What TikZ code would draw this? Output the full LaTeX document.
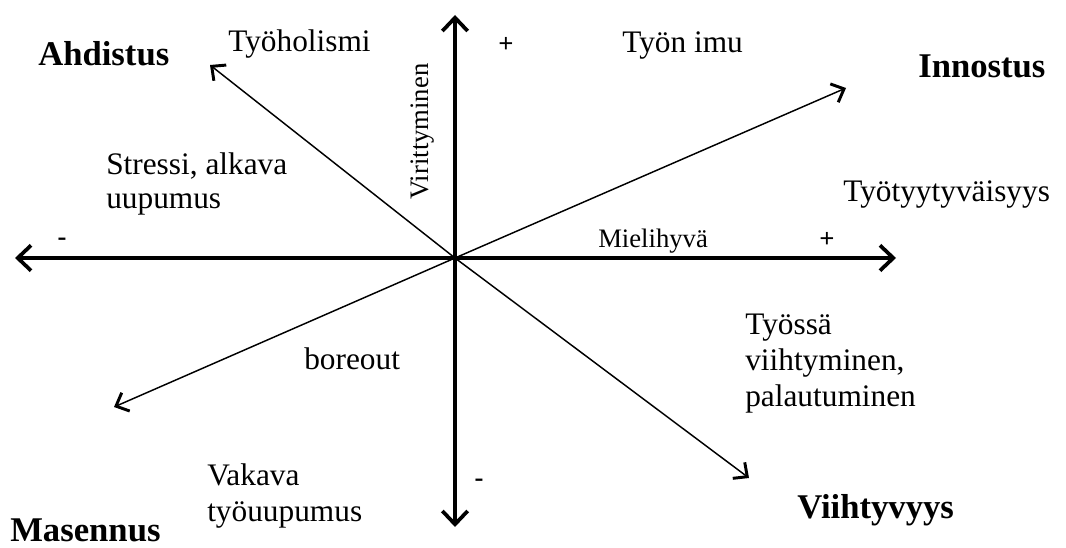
\documentclass[tikz,border=0pt]{standalone}
\usepackage{fontspec}
\setmainfont{Liberation Serif}
\usetikzlibrary{arrows.meta}
\begin{document}
\begin{tikzpicture}[x=0.75pt,y=-0.75pt,
  axisline/.style={line width=2.8pt,
    {Straight Barb[length=10pt,width=19pt,line width=2.8pt]}-{Straight Barb[length=10pt,width=19pt,line width=2.8pt]}},
  thinarrow/.style={line width=1.1pt,
    -{Straight Barb[length=8pt,width=15pt,line width=2.2pt]}},
  reg/.style={font=\fontsize{23.5}{25}\selectfont, inner sep=0pt, align=left},
  regwide/.style={font=\fontsize{23.5}{27}\selectfont, inner sep=0pt, align=left},
  strong/.style={font=\fontsize{26}{30}\selectfont\bfseries, inner sep=0pt},
  small/.style={font=\fontsize{20}{24}\selectfont, inner sep=0pt},
  sign/.style={font=\fontsize{20}{24}\selectfont\bfseries, inner sep=0pt}
]
\fill[white] (0,0) rectangle (1066,548);
\useasboundingbox (0,0) rectangle (1066,548);

% axis end points
\coordinate (O) at (455,258);
\coordinate (L) at (15,258);
\coordinate (R) at (896,258);
\coordinate (T) at (455,15);
\coordinate (B) at (455,527);
% diagonal arrow ends
\coordinate (UL) at (210,65);
\coordinate (UR) at (846,88);
\coordinate (LL) at (114,407);
\coordinate (LR) at (749,478);

\draw[axisline] (L) -- (R);
\draw[axisline] (B) -- (T);
\draw[thinarrow] (O) -- (UL);
\draw[thinarrow] (O) -- (UR);
\draw[thinarrow] (O) -- (LL);
\draw[thinarrow] (O) -- (LR);

% corner labels
\node[strong, anchor=base west] (ahd) at (38,66) {Ahdistus};
\node[strong, anchor=base west] (inn) at (918,78) {Innostus};
\node[strong, anchor=base west] (mas) at (10,541) {Masennus};
\node[strong, anchor=base west] (vii) at (797,518) {Viihtyvyys};

% other labels
\node[reg, anchor=base west] (tyoh) at (228,52) {Työholismi};
\node[reg, anchor=base west] (imu) at (622,53) {Työn imu};
\node[reg, anchor=base west] (tyyt) at (843,202) {Työtyytyväisyys};
\node[reg, anchor=west] (stress) at (106,184) {Stressi, alkava\\uupumus};
\node[reg, anchor=base west] (bore) at (304,370) {boreout};
\node[regwide, anchor=west] (tyossa) at (745,364) {Työssä\\viihtyminen,\\palautuminen};
\node[regwide, anchor=west] (vakava) at (207,496) {Vakava\\työuupumus};
\node[small, anchor=base west] (miel) at (598,248) {Mielihyvä};
\node[small, anchor=base west, rotate=90] (vir) at (428,200) {Virittyminen};

% signs
\node[sign] (ptop) at (506,45) {+};
\node[sign] (pright) at (827,240) {+};
\node[sign] (mleft) at (62,242) {-};
\node[sign] (mbot) at (479,483) {-};
\end{tikzpicture}
\end{document}
